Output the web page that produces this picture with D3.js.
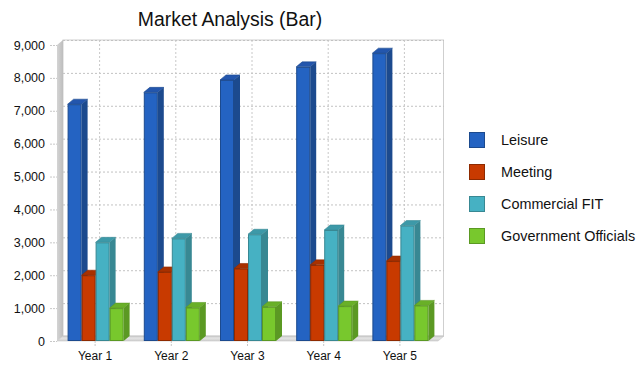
<!DOCTYPE html>
<html>
<head>
<meta charset="utf-8">
<script src="https://cdn.jsdelivr.net/npm/d3@7/dist/d3.min.js"></script>
<style>
  html, body { margin: 0; padding: 0; background: #fff; }
  svg { display: block; font-family: "Liberation Sans", Arial, sans-serif; }
</style>
</head>
<body>
<svg id="chart" width="636" height="366"></svg>
<script>
// Visitor segments by year
const years = ["Year 1", "Year 2", "Year 3", "Year 4", "Year 5"];
const seriesNames = ["Leisure", "Meeting", "Commercial FIT", "Government Officials"];
const leisure = [7200, 7560, 7938, 8335, 8752];
const meeting = [2000, 2100, 2205, 2315, 2431];
const commercialFIT = [3000, 3120, 3245, 3375, 3510];
const governmentOfficials = [1000, 1020, 1040, 1061, 1082];
const yTicks = [0, 1000, 2000, 3000, 4000, 5000, 6000, 7000, 8000, 9000];

const seriesValues = [leisure, meeting, commercialFIT, governmentOfficials];

// face colours per series: front, side, top
const palette = [
  { front: "#2463c2", side: "#1c4a8e", top: "#2356ad" },
  { front: "#c83a00", side: "#8e2a00", top: "#a83100" },
  { front: "#46b1c3", side: "#388893", top: "#3d99a8" },
  { front: "#78c82d", side: "#5b9923", top: "#69b028" }
];

const svg = d3.select("#chart");
const dx = 6, dy = 5;            // 3D depth offset
const plotLeft = 57, plotRight = 438, plotBottom = 341, plotTop = 45;

const x0 = d3.scaleBand().domain(years).range([plotLeft, plotRight]).padding(0);
const groupW = 56;
const x1 = d3.scaleBand().domain(seriesNames).range([0, groupW]).padding(0);
const y = d3.scaleLinear().domain([0, 9000]).range([plotBottom, plotTop]);

// gradients for the walls
const defs = svg.append("defs");
const wallGrad = defs.append("linearGradient").attr("id", "wallGrad")
  .attr("x1", "0").attr("x2", "1").attr("y1", "0").attr("y2", "0");
wallGrad.append("stop").attr("offset", "0").attr("stop-color", "#d4d4d4");
wallGrad.append("stop").attr("offset", "1").attr("stop-color", "#bdbdbd");
const floorGrad = defs.append("linearGradient").attr("id", "floorGrad")
  .attr("x1", "0").attr("x2", "0").attr("y1", "0").attr("y2", "1");
floorGrad.append("stop").attr("offset", "0").attr("stop-color", "#c4c4c4");
floorGrad.append("stop").attr("offset", "0.4").attr("stop-color", "#e4e4e4");
floorGrad.append("stop").attr("offset", "1").attr("stop-color", "#cfcfcf");

// back wall
svg.append("rect")
  .attr("x", plotLeft + dx).attr("y", plotTop - dy)
  .attr("width", plotRight - plotLeft - 0.5).attr("height", plotBottom - plotTop)
  .attr("fill", "#fff").attr("stroke", "#cfcfcf").attr("stroke-width", 1);

// horizontal grid on the back wall
svg.append("g").selectAll("line").data(yTicks.slice(1)).join("line")
  .attr("x1", plotLeft + dx).attr("x2", plotRight + dx)
  .attr("y1", d => y(d) - dy + 0.5).attr("y2", d => y(d) - dy + 0.5)
  .attr("stroke", "#c2c2c2").attr("stroke-dasharray", "2,2");

// vertical grid on the back wall
svg.append("g").selectAll("line").data(years).join("line")
  .attr("x1", d => x0(d) + x0.bandwidth() / 2 + dx - 1.5)
  .attr("x2", d => x0(d) + x0.bandwidth() / 2 + dx - 1.5)
  .attr("y1", plotTop - dy).attr("y2", plotBottom - dy)
  .attr("stroke", "#c8c8c8").attr("stroke-dasharray", "2,2");

// left wall
svg.append("path")
  .attr("d", `M${plotLeft},${plotBottom} L${plotLeft},${plotTop} L${plotLeft + dx},${plotTop - dy} L${plotLeft + dx},${plotBottom - dy} Z`)
  .attr("fill", "url(#wallGrad)");

// floor
svg.append("path")
  .attr("d", `M${plotLeft},${plotBottom} L${plotRight},${plotBottom} L${plotRight + dx},${plotBottom - dy} L${plotLeft + dx},${plotBottom - dy} Z`)
  .attr("fill", "url(#floorGrad)").attr("stroke", "#c8c8c8").attr("stroke-width", 0.6);

// y-axis ticks and labels
const yAxis = svg.append("g");
yAxis.selectAll("line").data(yTicks).join("line")
  .attr("x1", plotLeft - 7).attr("x2", plotLeft)
  .attr("y1", d => y(d) + 0.5).attr("y2", d => y(d) + 0.5)
  .attr("stroke", "#c8c8c8").attr("stroke-dasharray", "2,1");
yAxis.selectAll("text").data(yTicks).join("text")
  .attr("x", 45).attr("y", d => y(d))
  .attr("dy", "0.36em")
  .attr("text-anchor", "end")
  .attr("font-size", "12.5px").attr("fill", "#111")
  .text(d => d3.format(",")(d));

// x-axis ticks and labels
const xAxis = svg.append("g");
xAxis.selectAll("line").data(years).join("line")
  .attr("x1", d => x0(d) + x0.bandwidth() / 2).attr("x2", d => x0(d) + x0.bandwidth() / 2)
  .attr("y1", plotBottom).attr("y2", plotBottom + 6)
  .attr("stroke", "#c8c8c8").attr("stroke-dasharray", "2,1");
xAxis.selectAll("text").data(years).join("text")
  .attr("x", d => x0(d) + x0.bandwidth() / 2).attr("y", 360)
  .attr("text-anchor", "middle")
  .attr("font-size", "12px").attr("fill", "#111")
  .text(d => d);

// bars, drawn left to right so each box overlaps the side of its neighbour
const bars = [];
years.forEach((yr, i) => {
  seriesNames.forEach((s, j) => {
    bars.push({ year: yr, series: s, j: j, value: seriesValues[j][i] });
  });
});

const bw = x1.bandwidth();
const barG = svg.append("g").selectAll("g").data(bars).join("g");
barG.each(function (d) {
  const g = d3.select(this);
  const c = palette[d.j];
  const xs = x0(d.year) + (x0.bandwidth() - groupW) / 2 + x1(d.series) + 0.5;
  const yt = y(d.value), yb = y(0);
  // side face
  g.append("path")
    .attr("d", `M${xs + bw},${yt} L${xs + bw + dx},${yt - dy} L${xs + bw + dx},${yb - dy} L${xs + bw},${yb} Z`)
    .attr("fill", c.side);
  // top face
  g.append("path")
    .attr("d", `M${xs},${yt} L${xs + dx},${yt - dy} L${xs + bw + dx},${yt - dy} L${xs + bw},${yt} Z`)
    .attr("fill", c.top).attr("stroke", c.side).attr("stroke-width", 0.6);
  // front face
  g.append("rect")
    .attr("x", xs + 0.5).attr("y", yt + 0.5)
    .attr("width", bw - 1).attr("height", yb - yt - 1)
    .attr("fill", c.front).attr("stroke", c.side).attr("stroke-width", 1);
});

// legend
const legend = svg.append("g").selectAll("g").data(seriesNames).join("g")
  .attr("transform", (d, i) => `translate(469, ${132 + i * 32})`);
legend.append("rect")
  .attr("x", 0.5).attr("y", 0.5).attr("width", 15).attr("height", 15)
  .attr("fill", (d, i) => palette[i].front)
  .attr("stroke", (d, i) => palette[i].side).attr("stroke-width", 1);
legend.append("text")
  .attr("x", 32).attr("y", 8).attr("dy", "0.36em")
  .attr("font-size", "14.4px").attr("fill", "#111")
  .text(d => d);

// title
svg.append("text")
  .attr("x", 230).attr("y", 26)
  .attr("text-anchor", "middle")
  .attr("font-size", "19.4px").attr("fill", "#111")
  .text("Market Analysis (Bar)");
</script>
</body>
</html>
